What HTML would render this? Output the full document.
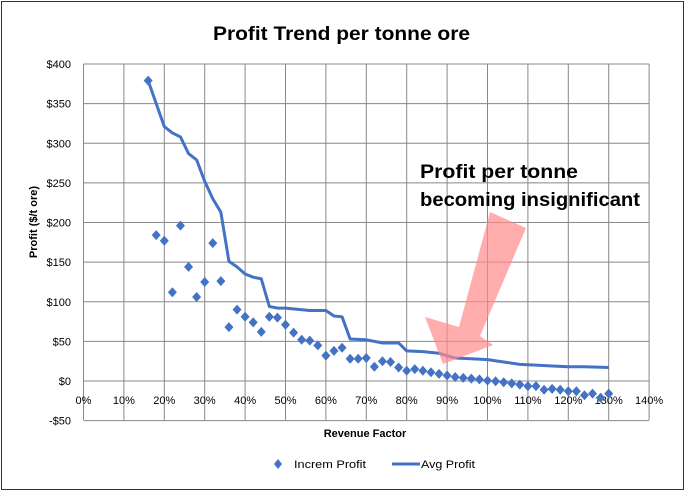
<!DOCTYPE html>
<html><head><meta charset="utf-8"><style>
html,body{margin:0;padding:0;background:#fff}
svg{display:block;font-family:"Liberation Sans",Calibri,sans-serif}
</style></head><body>
<svg width="686" height="492" viewBox="0 0 686 492" xmlns="http://www.w3.org/2000/svg">
<rect x="1.5" y="1.5" width="682" height="488" fill="#fff" stroke="#333" stroke-width="1"/>
<text x="213" y="40" textLength="257" lengthAdjust="spacingAndGlyphs" font-size="19" font-weight="bold" fill="#000">Profit Trend per tonne ore</text>
<g stroke="#888" stroke-width="1" fill="none" id="grid"></g>
<g font-size="11" fill="#000" id="labels"></g>
<text x="365" y="437" text-anchor="middle" font-size="11" font-weight="bold">Revenue Factor</text>
<text transform="translate(37,222) rotate(-90)" text-anchor="middle" font-size="11" font-weight="bold">Profit  ($/t ore)</text>
<polyline id="avg" fill="none" stroke="#4472C4" stroke-width="3" stroke-linejoin="round"/>
<g id="dots" fill="#4472C4"></g>
<polygon points="490,212 526,228 480,336 493,345 443,364 425,317 459,327" fill="#ff8a8a" fill-opacity="0.7"/>
<text x="420" y="178" textLength="158" lengthAdjust="spacingAndGlyphs" font-size="19" font-weight="bold">Profit per tonne</text>
<text x="420" y="206" textLength="220" lengthAdjust="spacingAndGlyphs" font-size="19" font-weight="bold">becoming insignificant</text>
<path d="M278 459 L282 464 L278 469 L274 464Z" fill="#4472C4"/>
<text x="294" y="468" font-size="11" textLength="72" lengthAdjust="spacingAndGlyphs">Increm Profit</text>
<line x1="392" y1="464" x2="420" y2="464" stroke="#4472C4" stroke-width="3"/>
<text x="421" y="468" font-size="11" textLength="54" lengthAdjust="spacingAndGlyphs">Avg Profit</text>
</svg>
<script>
const X=p=>83.5+p*4.04, Y=v=>381-v*0.7925;
const ns="http://www.w3.org/2000/svg";
const g=document.getElementById('grid'),L=document.getElementById('labels');
let gp="";
for(let i=0;i<=14;i++){const x=X(i*10);gp+=`M${x} 64V420`;const t=document.createElementNS(ns,'text');t.setAttribute('x',x);t.setAttribute('y',404);t.setAttribute('text-anchor','middle');t.textContent=(i*10)+'%';L.appendChild(t);}
for(let v=-50;v<=400;v+=50){const y=Y(v);gp+=`M${X(0)} ${y}H${X(140)}`;const t=document.createElementNS(ns,'text');t.setAttribute('x',71);t.setAttribute('y',y+4);t.setAttribute('text-anchor','end');t.textContent=(v<0?'-$':'$')+Math.abs(v);L.appendChild(t);}
const pth=document.createElementNS(ns,'path');pth.setAttribute('d',gp);g.appendChild(pth);
const d=[379,184,177,112,196,144,106,125,174,126,68,90,81,74,62,81,80,71,61,52,51,45,32,38,42,28,28,29,18,25,24,17,13,15,13,11,9,7,5,4,3,2,0.5,-0.3,-1.5,-3,-4.5,-6.5,-6.5,-11,-10,-11,-13,-13,-18,-16,-21,-16];
const D=document.getElementById('dots');
d.forEach((v,i)=>{const x=X(16+2*i),y=Y(v);const p=document.createElementNS(ns,'path');p.setAttribute('d',`M${x} ${y-5}L${x+4.5} ${y}L${x} ${y+5}L${x-4.5} ${y}Z`);D.appendChild(p);});
const a=[[16,379],[20,321],[22,313],[24,308],[26,287],[28,279],[30,252],[32,230],[34,213],[36,151],[38,144],[40,135],[42,131],[44,129],[46,94],[48,92],[50,92],[56,89],[60,89],[62,82],[64,81],[66,53],[70,52],[72,50],[74,48],[78,48],[80,38],[84,37],[88,35],[92,29],[96,28],[100,27],[104,24],[108,21],[112,20],[116,19],[120,18],[124,18],[130,17]];
document.getElementById('avg').setAttribute('points',a.map(q=>X(q[0])+','+Y(q[1])).join(' '));
</script>
</body></html>
